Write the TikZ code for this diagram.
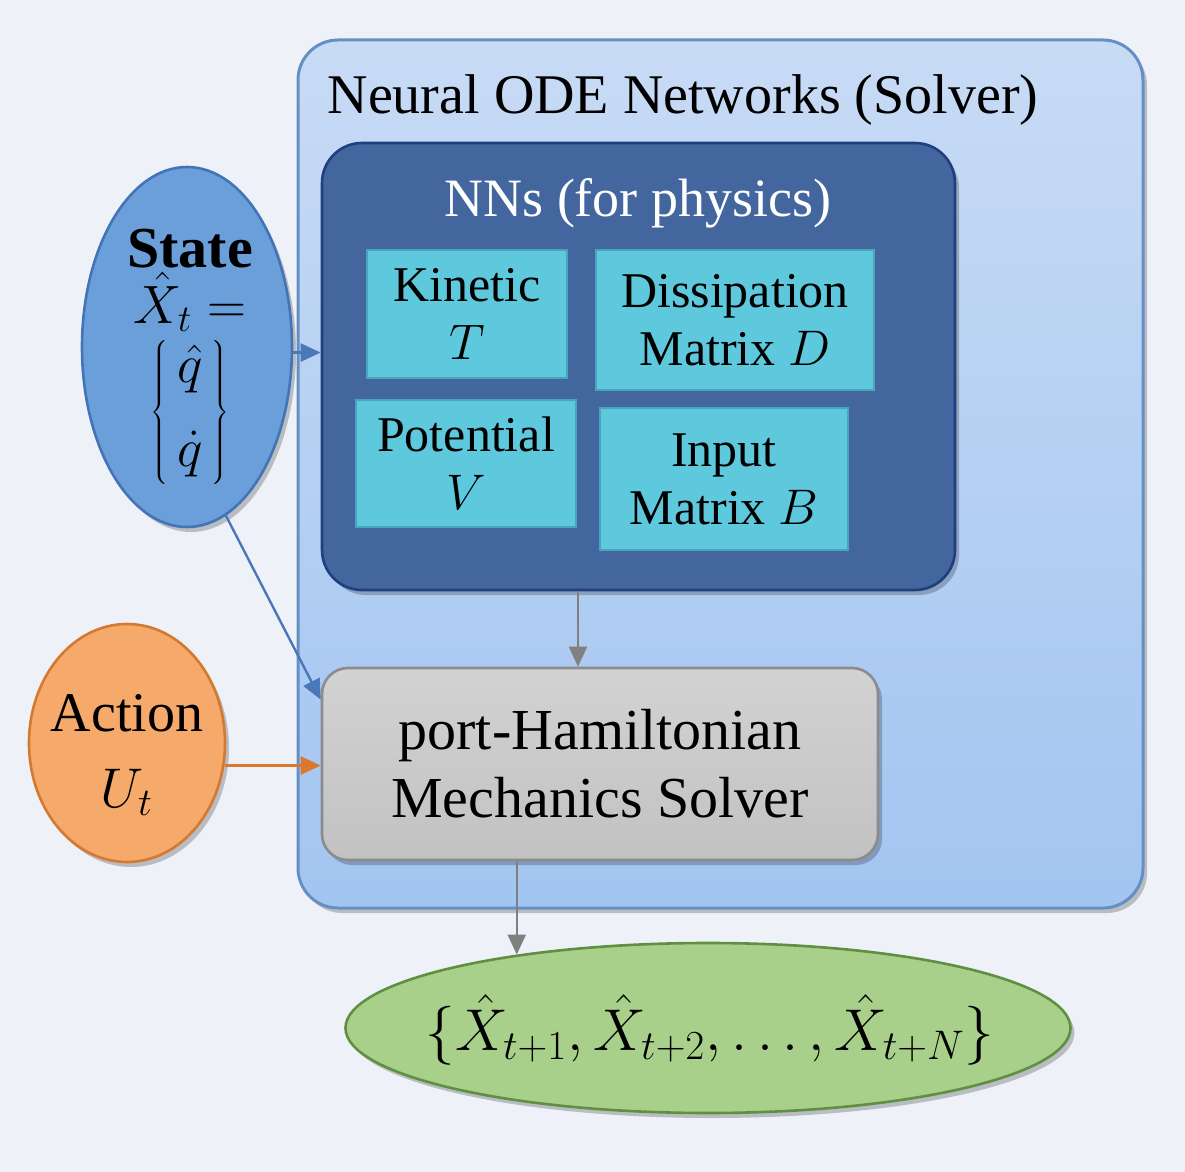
\RequirePackage{fix-cm}
\documentclass[tikz,border=0pt]{standalone}
\usepackage[no-math]{fontspec}
\setmainfont{Liberation Serif}
\usetikzlibrary{shapes.geometric,arrows.meta,shadows,calc}
\definecolor{bgc}{HTML}{EEF2F8}
\definecolor{outerTop}{HTML}{C8DBF5}
\definecolor{outerBot}{HTML}{A2C5F1}
\definecolor{outerDraw}{HTML}{6690C4}
\definecolor{nnFill}{HTML}{44669F}
\definecolor{nnDraw}{HTML}{203F7E}
\definecolor{cyanFill}{HTML}{5EC8DC}
\definecolor{cyanDraw}{HTML}{49A4BE}
\definecolor{stateFill}{HTML}{6B9FD9}
\definecolor{stateDraw}{HTML}{4474B8}
\definecolor{actFill}{HTML}{F5A96B}
\definecolor{actDraw}{HTML}{D47A30}
\definecolor{solTop}{HTML}{D2D2D2}
\definecolor{solBot}{HTML}{C2C2C2}
\definecolor{solDraw}{HTML}{8C8C8C}
\definecolor{outFill}{HTML}{A9D08B}
\definecolor{outDraw}{HTML}{5F8F40}
\definecolor{blueArr}{HTML}{4A78B8}
\definecolor{orangeArr}{HTML}{D9782E}
\definecolor{grayArr}{HTML}{808080}
\tikzset{
  shad/.style={drop shadow={shadow xshift=2pt,shadow yshift=-2.5pt,opacity=0.22,fill=black}},
  inbox/.style={draw=cyanDraw,fill=cyanFill,line width=1pt,align=center,inner sep=0pt,
    font=\fontsize{25}{29}\selectfont},
  arr/.style={line width=1.2pt,-{Triangle[length=10pt,width=9pt]}},
}
\begin{document}
\begin{tikzpicture}[x=0.5pt,y=-0.5pt]
\useasboundingbox (0,0) rectangle (1185,1172);
\fill[bgc] (0,0) rectangle (1185,1172);
% outer box
\node[shad,draw=outerDraw,line width=1.5pt,top color=outerTop,bottom color=outerBot,
  rounded corners=20pt,minimum width=422.5pt,minimum height=434pt,inner sep=0pt]
  (Outer) at (720.5,474) {};
\node[font=\fontsize{28}{32}\selectfont,inner sep=0pt] (OuterTitle) at (683,100) {Neural ODE Networks (Solver)};
% NNs box
\node[shad,draw=nnDraw,line width=1.3pt,fill=nnFill,rounded corners=20pt,
  minimum width=316.5pt,minimum height=223.5pt,inner sep=0pt] (NNs) at (638.5,366.5) {};
\node[text=white,font=\fontsize{27}{31}\selectfont,inner sep=0pt] (NNsTitle) at (638,203) {NNs (for physics)};
\node[inbox,minimum width=100pt,minimum height=64pt] (Kin) at (467,314) {Kinetic\\$T$};
\node[inbox,minimum width=139pt,minimum height=70pt] (Dis) at (735,320) {Dissipation\\Matrix $D$};
\node[inbox,minimum width=110pt,minimum height=63.5pt] (Pot) at (466,463.5) {Potential\\$V$};
\node[inbox,minimum width=124pt,minimum height=71pt] (Inp) at (724,479) {Input\\Matrix $B$};
% solver
\node[shad,draw=solDraw,line width=1.3pt,top color=solTop,bottom color=solBot,rounded corners=13pt,
  minimum width=278pt,minimum height=96pt,inner sep=0pt,align=center,
  font=\fontsize{29}{34}\selectfont] (Solver) at (600,764) {port-Hamiltonian\\Mechanics Solver};
% state
\node[shad,ellipse,draw=stateDraw,line width=1.3pt,fill=stateFill,minimum width=105pt,minimum height=180pt,
  inner sep=0pt] (State) at (187,347) {};
\node[inner sep=0pt,align=center,font=\fontsize{27}{31}\selectfont] (StateText) at (190,357)
  {{\fontsize{29}{31}\selectfont\textbf{State}}\\[-3pt]$\hat{X}_t =$\\[3pt]$\left\{\begin{array}{@{\,}c@{\,}}\hat{q}\\[11pt]\dot{q}\end{array}\right\}$};
% action
\node[shad,ellipse,draw=actDraw,line width=1.3pt,fill=actFill,minimum width=98pt,minimum height=119pt,
  inner sep=0pt] (Action) at (127,743) {};
\node[inner sep=0pt,align=center,font=\fontsize{28}{38}\selectfont] (ActionText) at (127,755) {Action\\$U_t$};
% output
\node[shad,ellipse,draw=outDraw,line width=1.3pt,fill=outFill,minimum width=362.5pt,minimum height=85pt,
  inner sep=0pt] (Out) at (708,1028) {};
\node[inner sep=0pt,font=\fontsize{29.5}{34}\selectfont] (OutText) at (710,1030)
  {$\{\hat{X}_{t+1},\hat{X}_{t+2},\ldots,\hat{X}_{t+N}\}$};
% arrows
\draw[arr,blueArr] (State.-3) -- (State.-3 -| NNs.west);
\draw[arr,blueArr] (State.-77) -- (Solver.167);
\draw[arr,orangeArr] (Action.-13) -- (Action.-13 -| Solver.west);
\draw[arr,grayArr] ([xshift=-30.25pt]NNs.south) -- ([xshift=-30.25pt]NNs.south |- Solver.north);
\draw[arr,grayArr] (Out.159.25 |- Solver.south) -- (Out.159.25);
\end{tikzpicture}
\end{document}
